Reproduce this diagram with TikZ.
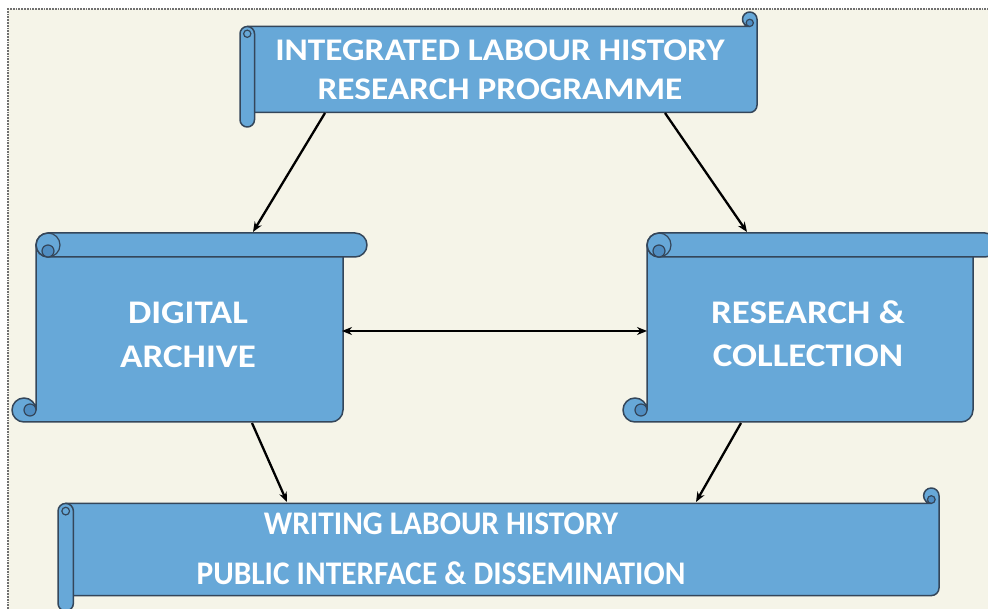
\documentclass[tikz,border=0pt]{standalone}
\usepackage{fontspec}
\setmainfont{Carlito}
\newfontfamily\widelbl{Carlito}[FakeStretch=1.12]
\newfontfamily\narrowlbl{Carlito}[FakeStretch=0.95]
\usetikzlibrary{arrows.meta}

\definecolor{paper}{HTML}{F5F4E8}
\definecolor{scrollfill}{HTML}{67A8D8}
\definecolor{curlfill}{HTML}{4F8DC2}
\definecolor{scrolledge}{HTML}{34465A}
\definecolor{framegray}{HTML}{707070}

\tikzset{
  scroll/.style={fill=scrollfill, draw=scrolledge, line width=1.5pt, line join=round},
  curl/.style={fill=curlfill, draw=scrolledge, line width=1.2pt},
  scrollline/.style={draw=scrolledge, line width=1.2pt},
  lbl/.style={text=white, inner sep=0pt, align=center},
  link/.style={line width=2.3pt, black, -{Stealth[length=10pt,width=8pt]}},
  twoway/.style={line width=2.3pt, black, {Stealth[length=10pt,width=8pt]}-{Stealth[length=10pt,width=8pt]}},
}

% horizontal scroll: x0, x1, y top, y bottom, roll size
\newcommand\hscroll[5]{%
  \pgfmathsetmacro\scrH{#5/2}%
  \pgfmathsetmacro\scrQ{#5/4}%
  \filldraw[scroll] ({#1+\scrH},{#3+#5}) -- ({#2-\scrH},{#3+#5})
     arc[start angle=90,end angle=360,radius=\scrH]
     -- ({#2},{#4-#5-\scrH}) arc[start angle=0,end angle=90,radius=\scrH]
     -- ({#1+\scrH},{#4-#5}) -- cycle;
  \filldraw[curl] ({#2-\scrH},{#3+\scrH+\scrQ}) circle[radius=\scrQ];
  \filldraw[scroll] ({#1},{#3+#5+\scrH}) arc[start angle=180,end angle=360,radius=\scrH]
     -- ({#1+#5},{#4-\scrH}) arc[start angle=0,end angle=180,radius=\scrH] -- cycle;
  \draw[scrollline] ({#1+\scrH},{#3+#5+\scrH}) circle[radius=\scrQ];
}

% vertical scroll: x0, x1, y top, y bottom, roll size
\newcommand\vscroll[5]{%
  \pgfmathsetmacro\scrH{#5/2}%
  \pgfmathsetmacro\scrQ{#5/4}%
  \filldraw[scroll] ({#1+#5},{#3+\scrH}) -- ({#1+#5},{#4-\scrH})
     arc[start angle=360,end angle=90,radius=\scrH]
     -- ({#2-#5-\scrH},{#4}) arc[start angle=90,end angle=0,radius=\scrH]
     -- ({#2-#5},{#3+\scrH}) -- cycle;
  \filldraw[curl] ({#1+\scrH+\scrQ},{#4-\scrH}) circle[radius=\scrQ];
  \filldraw[scroll] ({#1+#5+\scrH},{#3}) -- ({#2-\scrH},{#3})
     arc[start angle=270,end angle=450,radius=\scrH]
     -- ({#1+#5+\scrH},{#3+#5}) arc[start angle=90,end angle=270,radius=\scrH] -- cycle;
  \draw[scrollline] ({#1+#5+\scrH},{#3+\scrH}) circle[radius=\scrH];
  \filldraw[curl] ({#1+#5+\scrH},{#3+\scrH+\scrQ}) circle[radius=\scrQ];
}

\begin{document}
\begin{tikzpicture}[x=1pt,y=-1pt]
  \clip (0,0) rectangle (988,609);
  \fill[white] (0,0) rectangle (988,609);
  \fill[paper] (8,9) rectangle (988,609);
  \draw[framegray, line width=1.8pt, densely dotted] (8,609) -- (8,9) -- (988,9);

  % scrolls
  \hscroll{240}{757}{12}{127}{14.5}
  \vscroll{12}{367}{233}{422}{24}
  \vscroll{623}{997}{233}{422}{24}
  \hscroll{58}{939}{488}{611}{15.4}

  % labels
  \node[lbl, font=\widelbl\bfseries\fontsize{31.5}{39}\selectfont] (prog) at (500,69.5)
    {INTEGRATED LABOUR HISTORY\\RESEARCH PROGRAMME};
  \node[lbl, font=\widelbl\bfseries\fontsize{33}{44}\selectfont] (arch) at (188,335)
    {DIGITAL\\ARCHIVE};
  \node[lbl, font=\widelbl\bfseries\fontsize{33}{43}\selectfont] (coll) at (808,334)
    {RESEARCH \&\\COLLECTION};
  \node[lbl, font=\narrowlbl\bfseries\fontsize{33}{50}\selectfont] (pub) at (441,549)
    {WRITING LABOUR HISTORY\\PUBLIC INTERFACE \& DISSEMINATION};

  % connector ends on the scroll edges
  \coordinate (prog-l) at (325,113);
  \coordinate (prog-r) at (665,113);
  \coordinate (arch-t) at (253,232);
  \coordinate (coll-t) at (747,232);
  \coordinate (arch-r) at (342,331);
  \coordinate (coll-l) at (647,331);
  \coordinate (arch-b) at (252,423);
  \coordinate (coll-b) at (741,423);
  \coordinate (pub-l) at (287,502);
  \coordinate (pub-r) at (696,502);

  % connectors
  \draw[link] (prog-l) -- (arch-t);
  \draw[link] (prog-r) -- (coll-t);
  \draw[twoway] (arch-r) -- (coll-l);
  \draw[link] (arch-b) -- (pub-l);
  \draw[link] (coll-b) -- (pub-r);
\end{tikzpicture}
\end{document}
